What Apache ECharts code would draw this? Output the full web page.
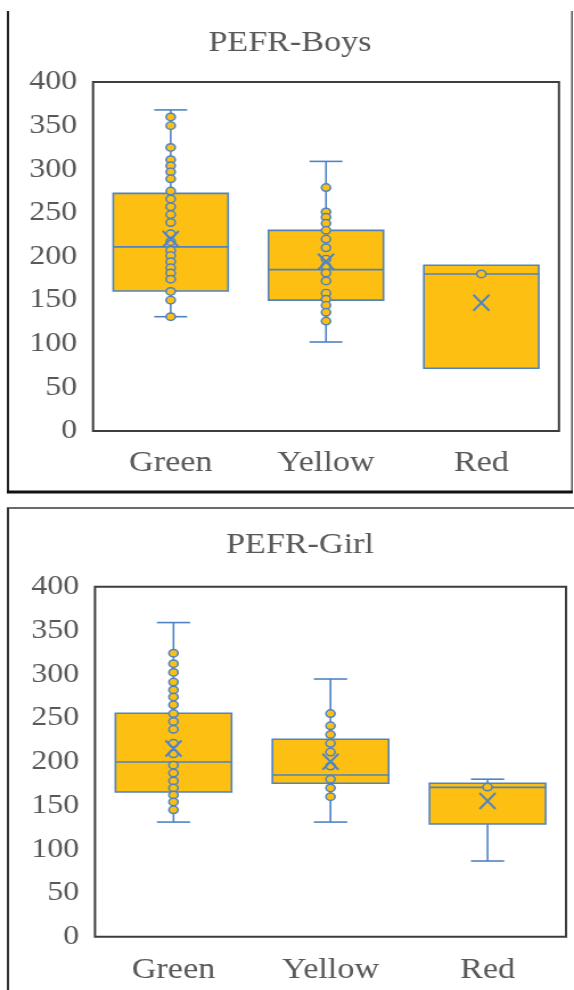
<!DOCTYPE html>
<html><head><meta charset="utf-8">
<script src="https://cdn.jsdelivr.net/npm/echarts@6/dist/echarts.min.js"></script>
<style>html,body{margin:0;padding:0;background:#fff;overflow:hidden}
#c{width:504px;height:990px;transform:scaleX(1.1389);transform-origin:0 0;}</style>
</head><body><div id="c"></div>
<script>
const categories = ['Green', 'Yellow', 'Red'];
const titles = ['PEFR-Boys', 'PEFR-Girl'];
const yMin = 0, yMax = 400, yStep = 50;
// [min, Q1, median, Q3, max]
const boysStats = [[131, 160.5, 211, 272.4, 368], [102, 150, 185, 230, 309], [72, 72, 180, 190, 190]];
const boysMean = [220, 194, 147];
const boysGreenPts = [360, 350, 325, 311, 304, 297, 289, 275, 266, 257, 248, 239, 226, 217, 207, 201, 194, 187, 181, 174, 160, 150, 131];
const boysYellowPts = [279, 251, 245, 238, 230, 220, 210, 197, 189, 181, 172, 158, 151, 144, 136, 126];
const boysRedPts = [180];
const girlsStats = [[131, 165.4, 199.7, 255.3, 359], [131, 175.3, 184.8, 225.6, 294.5], [86.5, 128.8, 170.7, 175.3, 180]];
const girlsMean = [215, 200, 155];
const girlsGreenPts = [324, 312, 302, 291, 282, 274, 265, 255, 246, 237, 221, 209, 196, 187, 178, 170, 162, 154, 145];
const girlsYellowPts = [255, 241, 231, 221, 211, 195, 180, 170, 160];
const girlsRedPts = [171];

const GOLD = '#FCBF12', BLUE = '#4F83C3', TXT = '#595959', FONT = '"Liberation Serif", "Times New Roman", serif';

function boxRender(params, api) {
  const i = api.value(0);
  const v = [1, 2, 3, 4, 5].map(k => api.value(k));
  const p = v.map(val => api.coord([i, val]));
  const band = api.size([1, 0])[0];
  const hw = band * 0.37, cw = band * 0.106;
  const x = p[0][0];
  const ls = { stroke: BLUE, lineWidth: 1.6 };
  const ch = [];
  if (v[4] > v[3]) {
    ch.push({ type: 'line', shape: { x1: x, y1: p[4][1], x2: x, y2: p[3][1] }, style: ls });
    ch.push({ type: 'line', shape: { x1: x - cw, y1: p[4][1], x2: x + cw, y2: p[4][1] }, style: ls });
  }
  if (v[0] < v[1]) {
    ch.push({ type: 'line', shape: { x1: x, y1: p[0][1], x2: x, y2: p[1][1] }, style: ls });
    ch.push({ type: 'line', shape: { x1: x - cw, y1: p[0][1], x2: x + cw, y2: p[0][1] }, style: ls });
  }
  ch.push({ type: 'rect', shape: { x: x - hw, y: p[3][1], width: 2 * hw, height: p[1][1] - p[3][1] }, style: { fill: GOLD, stroke: BLUE, lineWidth: 1.6 } });
  ch.push({ type: 'line', shape: { x1: x - hw, y1: p[2][1], x2: x + hw, y2: p[2][1] }, style: ls });
  return { type: 'group', children: ch };
}

function ptsData(lists) {
  const out = [];
  lists.forEach((arr, ci) => arr.forEach(val => out.push([ci, val])));
  return out;
}

const grids = [
  { left: 81.7, top: 82, width: 409.1, height: 349 },
  { left: 83.4, top: 586.7, width: 413.6, height: 350 }
];
const sets = [
  { stats: boysStats, mean: boysMean, pts: [boysGreenPts, boysYellowPts, boysRedPts] },
  { stats: girlsStats, mean: girlsMean, pts: [girlsGreenPts, girlsYellowPts, girlsRedPts] }
];

const option = {
  animation: false,
  backgroundColor: '#fff',
  grid: grids.map(g => Object.assign({ show: true, borderColor: '#3d3d3d', borderWidth: 2, backgroundColor: 'transparent' }, g)),
  xAxis: grids.map((g, k) => ({
    gridIndex: k, type: 'category', data: categories,
    axisLine: { show: false }, axisTick: { show: false }, splitLine: { show: false },
    axisLabel: { fontFamily: FONT, fontSize: 30, color: TXT, margin: k === 0 ? 17 : 18 }
  })),
  yAxis: grids.map((g, k) => ({
    gridIndex: k, type: 'value', min: yMin, max: yMax, interval: yStep,
    axisLine: { show: false }, axisTick: { show: false }, splitLine: { show: false },
    axisLabel: { fontFamily: FONT, fontSize: 28, color: TXT, margin: 14 }
  })),
  series: [],
  graphic: [
    { type: 'text', x: 254.6, y: 43, style: { text: titles[0], font: '30px ' + FONT, fill: TXT, align: 'center', verticalAlign: 'middle' } },
    { type: 'text', x: 263.4, y: 545, style: { text: titles[1], font: '30px ' + FONT, fill: TXT, align: 'center', verticalAlign: 'middle' } },
    { type: 'line', shape: { x1: 7, y1: 11, x2: 7, y2: 492 }, style: { stroke: '#222', lineWidth: 2 } },
    { type: 'line', shape: { x1: 502.2, y1: 11, x2: 502.2, y2: 492 }, style: { stroke: '#555', lineWidth: 1.5 } },
    { type: 'line', shape: { x1: 6, y1: 492, x2: 503, y2: 492 }, style: { stroke: '#111', lineWidth: 3 } },
    { type: 'line', shape: { x1: 6, y1: 508, x2: 504, y2: 508 }, style: { stroke: '#6a6a6a', lineWidth: 2 } },
    { type: 'line', shape: { x1: 7, y1: 508, x2: 7, y2: 990 }, style: { stroke: '#333', lineWidth: 2 } }
  ]
};

sets.forEach((s, k) => {
  option.series.push({
    type: 'custom', xAxisIndex: k, yAxisIndex: k, z: 2,
    renderItem: boxRender,
    encode: { x: 0, y: [1, 2, 3, 4, 5] },
    data: s.stats.map((st, i) => [i].concat(st))
  });
  option.series.push({
    type: 'scatter', xAxisIndex: k, yAxisIndex: k, z: 3,
    symbol: 'circle', symbolSize: [8, 7.5],
    itemStyle: { color: GOLD, borderColor: BLUE, borderWidth: 1.5, opacity: 1 },
    data: ptsData(s.pts)
  });
  option.series.push({
    type: 'scatter', xAxisIndex: k, yAxisIndex: k, z: 4,
    symbol: 'path://M0,0L10,10M10,0L0,10', symbolSize: [14, 16],
    itemStyle: { color: 'none', borderColor: BLUE, borderWidth: 2, opacity: 1 },
    data: s.mean.map((m, i) => [i, m])
  });
});

const chart = echarts.init(document.getElementById('c'), null, { renderer: 'canvas' });
chart.setOption(option);
</script>
</body></html>
